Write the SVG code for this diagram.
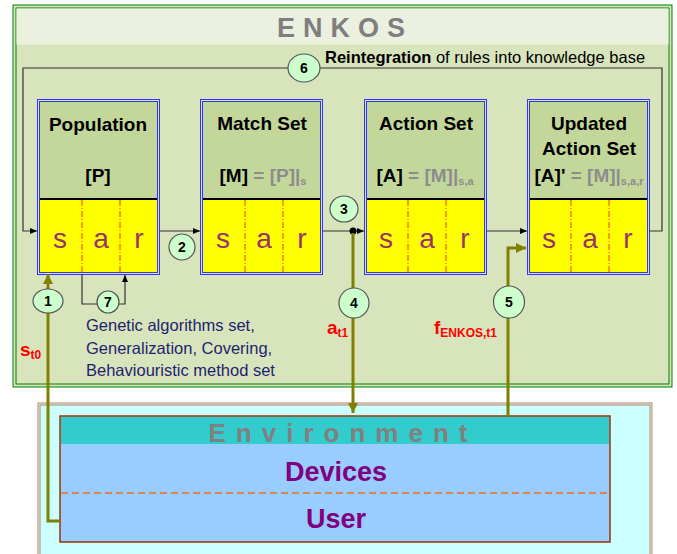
<svg xmlns="http://www.w3.org/2000/svg" width="677" height="554" viewBox="0 0 677 554">
<defs>
<marker id="ah" markerWidth="8" markerHeight="8" refX="7" refY="4" orient="auto" markerUnits="userSpaceOnUse"><path d="M0,1 L7,4 L0,7 z" fill="#000"/></marker>
<marker id="ao" markerWidth="12" markerHeight="10" refX="10" refY="5" orient="auto" markerUnits="userSpaceOnUse"><path d="M0,0 L10,5 L0,10 z" fill="#808000"/></marker>
</defs>
<style>
.t{font-family:"Liberation Sans",Arial,sans-serif}
.hdr{fill:#c4d79b}
.yel{fill:#ffff00}
.frame{fill:none;stroke:#3333ff;stroke-width:1}
.div{stroke:#ff3300;stroke-width:1;stroke-dasharray:6,2,1,2}
.ttl{font-family:"Liberation Sans",Arial,sans-serif;font-weight:bold;font-size:19px;fill:#000;text-anchor:middle}
.gr{fill:#8c8c8c}
.sar{font-family:"Liberation Sans",Arial,sans-serif;font-size:28px;fill:#993366;text-anchor:middle}
.circ{fill:#ccffcc;stroke:#555;stroke-width:1.2}
.num{font-family:"Liberation Sans",Arial,sans-serif;font-weight:bold;font-size:14px;text-anchor:middle;fill:#000}
.blk{fill:none;stroke:#333;stroke-width:1.2}
.olv{fill:none;stroke:#808000;stroke-width:3}
.red{font-family:"Liberation Sans",Arial,sans-serif;font-weight:bold;fill:#ff0000}
</style>
<rect width="677" height="554" fill="#fff"/>
<g id="enkos">
<rect x="13" y="5" width="659" height="382" fill="#d8e4bc" stroke="#008000" stroke-width="1"/>
<rect x="16" y="8" width="653" height="376" fill="none" stroke="#008000" stroke-width="1"/>
<rect x="16.5" y="8.5" width="652" height="36" fill="#ebf1de"/>
<text x="345" y="37" class="t" font-size="27" font-weight="bold" fill="#7f7f7f" text-anchor="middle" letter-spacing="8">ENKOS</text>
</g>
<g id="environment">
<rect x="38" y="403" width="614" height="160" fill="#ccffff" stroke="#c08060" stroke-width="1"/>
<rect x="40" y="405" width="610" height="160" fill="none" stroke="#c08060" stroke-width="1"/>
<rect x="60" y="416" width="550" height="126" fill="#99ccff" stroke="#993300" stroke-width="1.5"/>
<rect x="61" y="417" width="548" height="27" fill="#33cccc"/>
<text x="343" y="442" class="t" font-size="26" font-weight="bold" fill="#808080" text-anchor="middle" letter-spacing="10">Environment</text>
<line x1="61" y1="493" x2="609" y2="493" stroke="#f07020" stroke-width="1.5" stroke-dasharray="7,4"/>
<text x="336" y="481" class="t" font-size="27" font-weight="bold" fill="#800080" text-anchor="middle">Devices</text>
<text x="336" y="528" class="t" font-size="27" font-weight="bold" fill="#800080" text-anchor="middle">User</text>
</g>
<g id="population">
<rect x="40" y="102" width="117" height="97" class="hdr"/>
<rect x="40" y="199" width="117" height="73" class="yel"/>
<line x1="40" y1="199" x2="157" y2="199" stroke="#000" stroke-width="2"/>
<rect x="37.5" y="99.5" width="122" height="175" class="frame"/>
<rect x="39.5" y="101.5" width="118" height="171" class="frame"/>
<line x1="82" y1="200" x2="82" y2="272" class="div"/>
<line x1="120" y1="200" x2="120" y2="272" class="div"/>
<text x="98" y="131" class="ttl">Population</text>
<text x="98" y="182" class="ttl">[P]</text>
<text x="60" y="248" class="sar">s</text><text x="101" y="248" class="sar">a</text><text x="139" y="248" class="sar">r</text>
</g>
<g id="matchset">
<rect x="203" y="102" width="117" height="97" class="hdr"/>
<rect x="203" y="199" width="117" height="73" class="yel"/>
<line x1="203" y1="199" x2="320" y2="199" stroke="#000" stroke-width="2"/>
<rect x="200.5" y="99.5" width="122" height="175" class="frame"/>
<rect x="202.5" y="101.5" width="118" height="171" class="frame"/>
<line x1="245" y1="200" x2="245" y2="272" class="div"/>
<line x1="283" y1="200" x2="283" y2="272" class="div"/>
<text x="262" y="130" class="ttl">Match Set</text>
<text x="263" y="182" class="ttl">[M] <tspan class="gr">= [P]|</tspan><tspan class="gr" font-size="11" dy="3">s</tspan></text>
<text x="223" y="248" class="sar">s</text><text x="264" y="248" class="sar">a</text><text x="302" y="248" class="sar">r</text>
</g>
<g id="actionset">
<rect x="367" y="102" width="117" height="97" class="hdr"/>
<rect x="367" y="199" width="117" height="73" class="yel"/>
<line x1="367" y1="199" x2="484" y2="199" stroke="#000" stroke-width="2"/>
<rect x="364.5" y="99.5" width="122" height="175" class="frame"/>
<rect x="366.5" y="101.5" width="118" height="171" class="frame"/>
<line x1="408" y1="200" x2="408" y2="272" class="div"/>
<line x1="446" y1="200" x2="446" y2="272" class="div"/>
<text x="426" y="130" class="ttl">Action Set</text>
<text x="425" y="182" class="ttl">[A] <tspan class="gr">= [M]|</tspan><tspan class="gr" font-size="11" dy="3">s,a</tspan></text>
<text x="386" y="248" class="sar">s</text><text x="427" y="248" class="sar">a</text><text x="465" y="248" class="sar">r</text>
</g>
<g id="updatedactionset">
<rect x="530" y="102" width="117" height="97" class="hdr"/>
<rect x="530" y="199" width="117" height="73" class="yel"/>
<line x1="530" y1="199" x2="647" y2="199" stroke="#000" stroke-width="2"/>
<rect x="527.5" y="99.5" width="122" height="175" class="frame"/>
<rect x="529.5" y="101.5" width="118" height="171" class="frame"/>
<line x1="571" y1="200" x2="571" y2="272" class="div"/>
<line x1="609" y1="200" x2="609" y2="272" class="div"/>
<text x="589" y="130" class="ttl">Updated</text>
<text x="589" y="155" class="ttl">Action Set</text>
<text x="589" y="182" class="ttl">[A]' <tspan class="gr">= [M]|</tspan><tspan class="gr" font-size="11" dy="3">s,a,r</tspan></text>
<text x="549" y="248" class="sar">s</text><text x="590" y="248" class="sar">a</text><text x="628" y="248" class="sar">r</text>
</g>
<g id="connectors">
<path d="M649,231 H662 V68 H23 V231 H37" class="blk" marker-end="url(#ah)"/>
<path d="M160,231 H200" class="blk" marker-end="url(#ah)"/>
<path d="M323,231 H364" class="blk" marker-end="url(#ah)"/>
<circle cx="353" cy="231" r="3.5" fill="#000"/>
<path d="M487,231 H527" class="blk" marker-end="url(#ah)"/>
<path d="M82,274 V304 H125 V275" class="blk" marker-end="url(#ah)"/>
<path d="M353,233 V413" class="olv" marker-end="url(#ao)"/>
<path d="M508,416 V248 H526" class="olv" marker-end="url(#ao)"/>
<path d="M60,521 H48 V274" class="olv" marker-end="url(#ao)"/>
</g>
<g id="labels">
<ellipse cx="304" cy="68" rx="16" ry="14" class="circ"/><text x="304" y="73" class="num">6</text>
<ellipse cx="182" cy="247" rx="13" ry="13" class="circ"/><text x="182" y="252" class="num">2</text>
<ellipse cx="344" cy="209" rx="14" ry="13" class="circ"/><text x="344" y="214" class="num">3</text>
<ellipse cx="354" cy="303" rx="15" ry="15" class="circ"/><text x="354" y="308" class="num">4</text>
<ellipse cx="509" cy="302" rx="15.5" ry="16" class="circ"/><text x="509" y="307" class="num">5</text>
<ellipse cx="48" cy="301" rx="15" ry="12" class="circ"/><text x="48" y="306" class="num">1</text>
<ellipse cx="108" cy="302" rx="11" ry="11" class="circ"/><text x="108" y="307" class="num">7</text>
<text x="325" y="63" class="t" font-size="16.5" fill="#000"><tspan font-weight="bold">Reintegration</tspan> of rules into knowledge base</text>
<text class="t" font-size="16.5" fill="#1f1f6f"><tspan x="86" y="331">Genetic algorithms set,</tspan><tspan x="86" y="354">Generalization, Covering,</tspan><tspan x="86" y="376">Behaviouristic method set</tspan></text>
<text x="20" y="356" class="red" font-size="19">s<tspan font-size="12" dy="3">t0</tspan></text>
<text x="327" y="334" class="red" font-size="19">a<tspan font-size="12" dy="3">t1</tspan></text>
<text x="434" y="334" class="red" font-size="19">f<tspan font-size="12" dy="3">ENKOS,t1</tspan></text>
</g>
</svg>
